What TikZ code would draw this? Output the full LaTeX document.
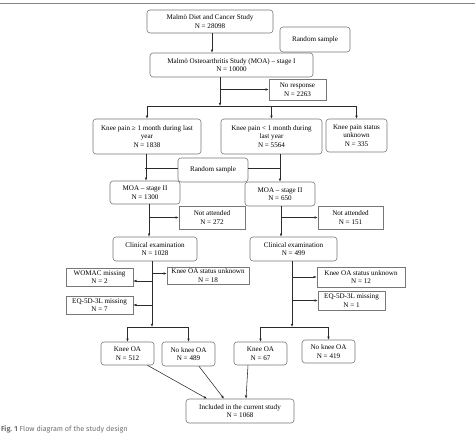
\documentclass[tikz,border=0pt]{standalone}
\usepackage{fontspec}
\setmainfont{Liberation Serif}
\newfontfamily\capfont{Fira Sans}
\usetikzlibrary{arrows.meta,positioning,calc}
\definecolor{boxgray}{HTML}{777777}
\definecolor{linkgray}{HTML}{2B2B2B}
\definecolor{capgray}{HTML}{6D6E71}
\tikzset{
  rbox/.style ={rounded corners=3pt,draw=boxgray,line width=0.6pt,inner sep=0pt,
                align=center,font=\fontsize{7.1}{8.6}\selectfont},
  sbox/.style ={rbox,sharp corners},
  link/.style ={-{Latex[length=3.2pt,width=2.6pt]},line width=0.55pt,draw=linkgray},
  plain/.style={line width=0.55pt,draw=linkgray}
}
\begin{document}
\begin{tikzpicture}[x=1pt,y=-1pt]
  \useasboundingbox (0,0) rectangle (475,434);
  \draw[capgray!85,line width=1pt] (0,3) -- (475,3);
  % first stage
  \node[rbox,minimum width=126pt,minimum height=23pt] (diet) at (210,21.5) {Malmö Diet and Cancer Study\\N = 28098};
  \node[rbox,minimum width=70pt,minimum height=25pt] (rs1) at (315,39.5) {Random sample};
  \node[rbox,minimum width=163pt,minimum height=24pt] (moa1) at (231.5,65) {Malmö Osteoarthritis Study (MOA) – stage I\\N = 10000};
  \node[sbox,minimum width=57pt,minimum height=21pt] (noresp) at (297.5,89.5) {No response\\N = 2263};
  \node[rbox,minimum width=108pt,minimum height=35pt] (kp1) at (147,136.5) {Knee pain ≥ 1 month during last\\year\\N = 1838};
  \node[rbox,minimum width=101pt,minimum height=35pt] (kp2) at (271.5,136.5) {Knee pain < 1 month during\\last year\\N = 5564};
  \node[rbox,minimum width=61pt,minimum height=33pt] (kp3) at (356.5,135.5) {Knee pain status\\unknown\\N = 335};
  % second stage
  \node[rbox,minimum width=70pt,minimum height=24pt] (rs2) at (213,170) {Random sample};
  \node[rbox,minimum width=70pt,minimum height=23pt] (moa2a) at (145,192.5) {MOA – stage II\\N = 1300};
  \node[rbox,minimum width=70pt,minimum height=24pt] (moa2b) at (280,194) {MOA – stage II\\N = 650};
  \node[sbox,minimum width=66pt,minimum height=23pt] (nat1) at (212,217.5) {Not attended\\N = 272};
  \node[sbox,minimum width=65pt,minimum height=23pt] (nat2) at (350.5,217.5) {Not attended\\N = 151};
  \node[rbox,minimum width=84pt,minimum height=24pt] (clin1) at (155,249) {Clinical examination\\N = 1028};
  \node[rbox,minimum width=87pt,minimum height=24pt] (clin2) at (293.5,249) {Clinical examination\\N = 499};
  \node[sbox,minimum width=82pt,minimum height=17pt] (unk1) at (208,275.5) {Knee OA status unknown\\N = 18};
  \node[sbox,minimum width=67pt,minimum height=18pt] (womac) at (99.5,277) {WOMAC missing\\N = 2};
  \node[sbox,minimum width=67pt,minimum height=18pt] (eq1) at (99.5,305) {EQ-5D-3L missing\\N = 7};
  \node[sbox,minimum width=88pt,minimum height=20pt] (unk2) at (361,277) {Knee OA status unknown\\N = 12};
  \node[sbox,minimum width=67pt,minimum height=19pt] (eq2) at (351.5,300.5) {EQ-5D-3L missing\\N = 1};
  % outcome
  \node[rbox,minimum width=53pt,minimum height=23pt] (oa1) at (127.5,353.5) {Knee OA\\N = 512};
  \node[rbox,minimum width=53pt,minimum height=24pt] (noa1) at (188.5,354) {No knee OA\\N = 489};
  \node[rbox,minimum width=53pt,minimum height=23pt] (oa2) at (260.5,353.5) {Knee OA\\N = 67};
  \node[rbox,minimum width=53pt,minimum height=23pt] (noa2) at (328.5,351.5) {No knee OA\\N = 419};
  \node[rbox,minimum width=108pt,minimum height=24pt] (incl) at (240,411) {Included in the current study\\N = 1068};
  % junction points
  \coordinate (s1) at (220,106);
  \coordinate (v1) at (149,0);
  \coordinate (v2) at (281,0);
  \coordinate (s2) at (152,327);
  \coordinate (s3) at (292,327);
  % links
  \draw[link] ([xshift=2pt]diet.south) -- ([xshift=2pt]diet.south |- moa1.north);
  \draw[link] (moa1.south -| s1) -- (s1);
  \draw[link] (s1 |- noresp) -- (noresp);
  \draw[plain] (kp1 |- s1) -- (kp3 |- s1);
  \draw[link] (kp1 |- s1) -- (kp1.north);
  \draw[link] (kp2 |- s1) -- (kp2.north);
  \draw[link] (kp3 |- s1) -- (kp3.north);
  \draw[link] ([xshift=-1pt]kp1.south) -- ([xshift=-1pt]kp1.south |- moa2a.north);
  \draw[link] (moa2b.north |- kp2.south) -- (moa2b.north);
  \draw[plain] ([yshift=2pt]rs2.west) -- ([yshift=2pt]rs2.west -| moa2a.north);
  \draw[plain] ([yshift=2pt]rs2.east) -- ([yshift=2pt]rs2.east -| moa2b.north);
  \draw[link] (moa2a.south -| v1) -- (clin1.north -| v1);
  \draw[link] (v1 |- nat1) -- (nat1);
  \draw[link] (moa2b.south -| v2) -- (clin2.north -| v2);
  \draw[link] (v2 |- nat2) -- (nat2);
  \draw[link] (clin1.south -| s2) -- (s2);
  \draw[link] ([yshift=2pt]s2 |- unk1) -- ([yshift=2pt]unk1.west);
  \draw[link] ([yshift=-4pt]s2 |- womac) -- ([yshift=-4pt]womac.east);
  \draw[link] (s2 |- eq1) -- (eq1);
  \draw[link] (clin2.south -| s3) -- (s3);
  \draw[link] (s3 |- unk2) -- (unk2);
  \draw[link] (s3 |- eq2) -- (eq2);
  \draw[plain] (oa1 |- s2) -- (noa1 |- s2);
  \draw[link] (oa1 |- s2) -- (oa1.north);
  \draw[link] (noa1 |- s2) -- (noa1.north);
  \draw[plain] (oa2 |- s3) -- (noa2 |- s3);
  \draw[link] (oa2 |- s3) -- (oa2.north);
  \draw[link] (noa2 |- s3) -- (noa2.north);
  \draw[link] ([xshift=20pt]oa1.south) -- ([xshift=-33pt]incl.north);
  \draw[link] ([xshift=10.5pt]noa1.south) -- ([xshift=-16pt]incl.north);
  \draw[link] ([xshift=-12.5pt]oa2.south) -- ([xshift=6pt]incl.north);
  % caption
  \node[anchor=base west,inner sep=0pt,font=\capfont\fontsize{7.2}{8}\selectfont,text=capgray] (cap) at (1,431.5) {\textbf{Fig. 1} Flow diagram of the study design};
\end{tikzpicture}
\end{document}
